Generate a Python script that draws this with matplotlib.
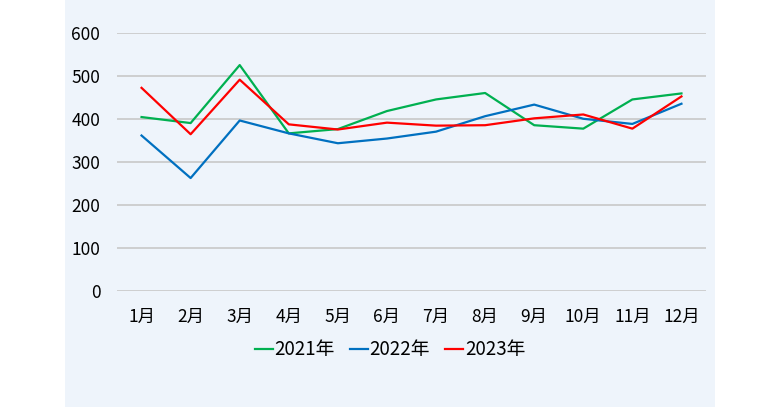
import matplotlib
matplotlib.use("Agg")
import matplotlib.pyplot as plt

plt.rcParams['font.family'] = ['Noto Sans CJK JP', 'DejaVu Sans']

months = ["1月", "2月", "3月", "4月", "5月", "6月", "7月", "8月", "9月", "10月", "11月", "12月"]
series_names = ["2021年", "2022年", "2023年"]
v2021 = [405, 391, 526, 367, 377, 419, 446, 461, 386, 378, 446, 460]
v2022 = [362, 263, 397, 367, 344, 355, 371, 407, 434, 401, 389, 436]
v2023 = [473, 365, 492, 388, 376, 392, 385, 386, 402, 411, 378, 453]
yticks = [0, 100, 200, 300, 400, 500, 600]
colors = ["#00B050", "#0070C0", "#FF0000"]

fig = plt.figure(figsize=(7.8, 4.07), dpi=100)
fig.patch.set_facecolor("white")
bg = fig.add_axes([65/780, 0, 650/780, 1], zorder=-5)
bg.set_facecolor("#EEF4FB")
bg.set_xticks([]); bg.set_yticks([])
for s in bg.spines.values():
    s.set_visible(False)

ax = fig.add_axes([117/780, 1-291/407, (706-117)/780, (291-33.3)/407], zorder=1)
ax.set_facecolor("none")
x = list(range(len(months)))
for vals, name, c in zip([v2021, v2022, v2023], series_names, colors):
    ax.plot(x, vals, color=c, lw=1.6, label=name, zorder=3)

ax.set_xlim(-0.5, len(months) - 0.5)
ax.set_ylim(0, 600)
ax.set_yticks(yticks)
ax.set_yticklabels([str(t) for t in yticks])
ax.set_xticks(x)
ax.set_xticklabels(months)
ax.grid(axis="y", color="#C8C8C8", lw=1.2)
ax.set_axisbelow(True)
for s in ax.spines.values():
    s.set_visible(False)
ax.tick_params(axis="both", length=0, labelsize=12.5, colors="black")
ax.tick_params(axis="x", pad=12)
ax.tick_params(axis="y", pad=12)

fig.legend(loc="center", bbox_to_anchor=(390/780, 1-350/407), ncol=3, frameon=False,
           fontsize=13.5, handlelength=0.95, handletextpad=0.1, columnspacing=0.8,
           borderaxespad=0, borderpad=0)

fig.savefig("out.png", dpi=100, facecolor=fig.get_facecolor())
